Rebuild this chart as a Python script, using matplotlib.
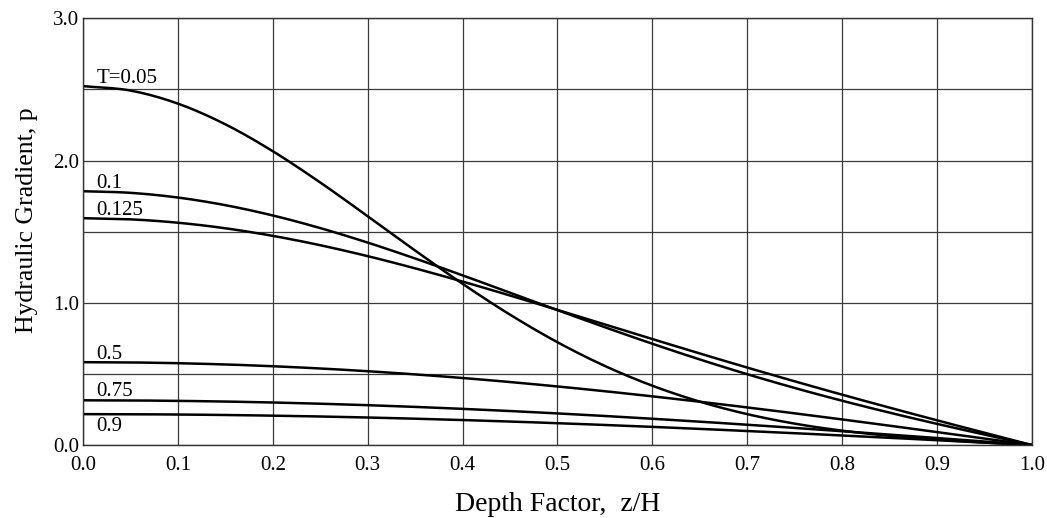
import matplotlib
matplotlib.use("Agg")
import matplotlib.pyplot as plt
import numpy as np

plt.rcParams['font.family'] = ['Liberation Serif', 'DejaVu Serif']

# depth factor z/H
z = [0.0, 0.05, 0.1, 0.15, 0.2, 0.25, 0.3, 0.35, 0.4, 0.45, 0.5,
     0.55, 0.6, 0.65, 0.7, 0.75, 0.8, 0.85, 0.9, 0.95, 1.0]

# hydraulic gradient p for each time factor T
p_005 = [2.5231, 2.4918, 2.4001, 2.2547, 2.0657, 1.8459, 1.6088, 1.3675, 1.1337, 0.9167, 0.7229,
         0.5560, 0.4171, 0.3051, 0.2172, 0.1505, 0.1010, 0.0647, 0.0380, 0.0175, 0.0]
p_01 = [1.7841, 1.7729, 1.7399, 1.6862, 1.6138, 1.5252, 1.4233, 1.3115, 1.1930, 1.0710, 0.9485,
        0.8282, 0.7121, 0.6017, 0.4980, 0.4013, 0.3115, 0.2277, 0.1489, 0.0735, 0.0]
p_0125 = [1.5947, 1.5865, 1.5628, 1.5237, 1.4705, 1.4047, 1.3279, 1.2421, 1.1492, 1.0513, 0.9502,
          0.8476, 0.7451, 0.6438, 0.5446, 0.4480, 0.3541, 0.2629, 0.1739, 0.0865, 0.0]
p_05 = [0.5824, 0.5806, 0.5752, 0.5663, 0.5539, 0.5381, 0.5189, 0.4966, 0.4712, 0.4429, 0.4118,
        0.3782, 0.3423, 0.3043, 0.2644, 0.2229, 0.1800, 0.1360, 0.0911, 0.0457, 0.0]
p_075 = [0.3143, 0.3133, 0.3104, 0.3056, 0.2989, 0.2903, 0.2800, 0.2680, 0.2542, 0.2390, 0.2222,
         0.2041, 0.1847, 0.1642, 0.1427, 0.1203, 0.0971, 0.0734, 0.0492, 0.0247, 0.0]
p_09 = [0.2171, 0.2164, 0.2144, 0.2111, 0.2064, 0.2005, 0.1934, 0.1851, 0.1756, 0.1651, 0.1535,
        0.1410, 0.1276, 0.1134, 0.0985, 0.0831, 0.0671, 0.0507, 0.0340, 0.0170, 0.0]

curves = [p_005, p_01, p_0125, p_05, p_075, p_09]
labels = ["T=0.05", "0.1", "0.125", "0.5", "0.75", "0.9"]
label_dy = [0.02, 0.02, 0.02, 0.02, 0.03, -0.12]


def smooth(x, y, n=10):
    # catmull-rom through the read points, just so the curves don't look kinked
    x = np.asarray(x)
    y = np.asarray(y)
    yp = np.concatenate([[2 * y[0] - y[1]], y, [2 * y[-1] - y[-2]]])
    xs, ys = [], []
    for i in range(len(x) - 1):
        t = np.linspace(0, 1, n, endpoint=False)
        p0, p1, p2, p3 = yp[i], yp[i + 1], yp[i + 2], yp[i + 3]
        ys.append(0.5 * (2 * p1 + (-p0 + p2) * t + (2 * p0 - 5 * p1 + 4 * p2 - p3) * t ** 2
                         + (-p0 + 3 * p1 - 3 * p2 + p3) * t ** 3))
        xs.append(x[i] + (x[i + 1] - x[i]) * t)
    xs.append([x[-1]])
    ys.append([y[-1]])
    return np.concatenate(xs), np.concatenate(ys)


fig = plt.figure(figsize=(10.47, 5.18), dpi=100)
ax = fig.add_axes([0.0793, 0.1409, 0.9061, 0.8238])

for p, lab, dy in zip(curves, labels, label_dy):
    xs, ys = smooth(z, p)
    ax.plot(xs, ys, color="black", lw=1.8, solid_capstyle="round")
    ax.text(0.014, p[0] + dy, lab, fontsize=15, ha="left", va="baseline")

ax.set_xlim(0, 1.0)
ax.set_ylim(0, 3.0)
ax.set_xticks([i / 10 for i in range(11)])
ax.set_xticklabels([f"{i / 10:.1f}" for i in range(11)])
ax.set_yticks([0.0, 1.0, 2.0, 3.0])
ax.set_yticklabels(["0.0", "1.0", "2.0", "3.0"])
ax.set_yticks([0.5, 1.5, 2.5], minor=True)
ax.tick_params(axis="both", which="both", length=0, labelsize=15)
ax.tick_params(axis="x", pad=8)
ax.tick_params(axis="y", pad=3)
ax.grid(True, which="both", color="#3a3a3a", lw=0.9)
ax.set_axisbelow(True)
for s in ax.spines.values():
    s.set_linewidth(1.0)
    s.set_color("#333333")

ax.set_xlabel("Depth Factor,  z/H", fontsize=20, labelpad=12)
ax.set_ylabel("Hydraulic Gradient, p", fontsize=18.5)
ax.yaxis.set_label_coords(-0.047, 0.527)

plt.savefig("out.png", dpi=100)
